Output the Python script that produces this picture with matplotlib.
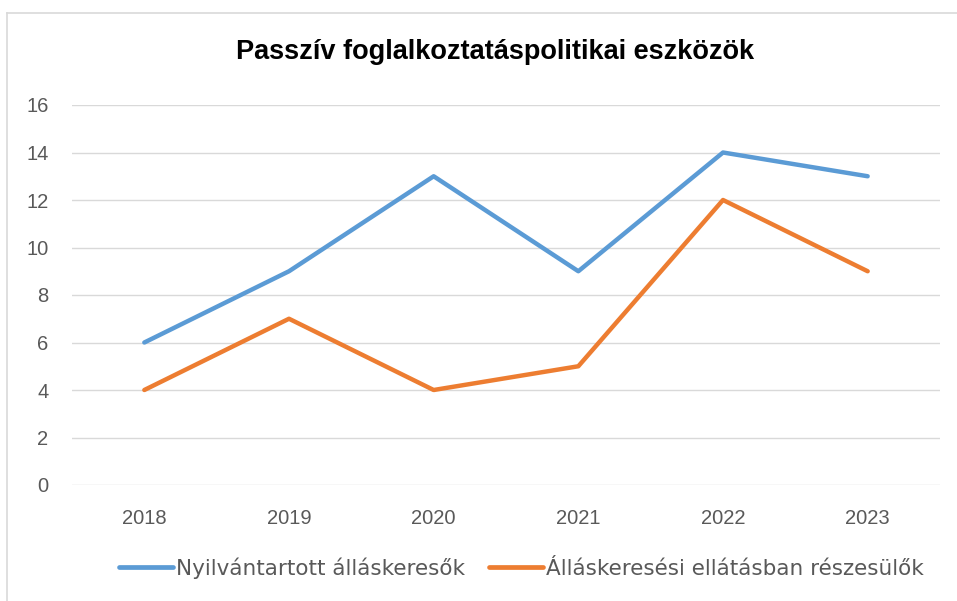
import matplotlib.pyplot as plt
from matplotlib.lines import Line2D

# ---------- adatok ----------
years = ["2018", "2019", "2020", "2021", "2022", "2023"]
nyilvantartott = [6, 9, 13, 9, 14, 13]
ellatasban = [4, 7, 4, 5, 12, 9]

BLUE = "#5B9BD5"
ORANGE = "#ED7D31"
GRID = "#D9D9D9"
TXT = "#595959"

plt.rcParams["font.family"] = ["Liberation Sans", "DejaVu Sans"]

fig = plt.figure(figsize=(9.57, 6.01), dpi=100)
ax = fig.add_axes([72 / 957, 1 - 485 / 601, 868 / 957, 380 / 601])

x = range(len(years))
ax.plot(x, nyilvantartott, color=BLUE, linewidth=3.2, solid_capstyle="round",
        label="Nyilvántartott álláskeresők")
ax.plot(x, ellatasban, color=ORANGE, linewidth=3.2, solid_capstyle="round",
        label="Álláskeresési ellátásban részesülők")

ax.set_xlim(-0.5, len(years) - 0.5)
ax.set_ylim(0, 16)
ax.set_yticks(range(0, 17, 2))
ax.set_xticks(list(x))
ax.set_xticklabels(years)
ax.tick_params(axis="both", length=0, labelsize=14.5, colors=TXT)
ax.tick_params(axis="x", pad=17)
ax.tick_params(axis="y", pad=17)
ax.grid(axis="y", color=GRID, linewidth=1)
ax.set_axisbelow(True)
for s in ax.spines.values():
    s.set_visible(False)

fig.text(0.517, 1 - 52 / 601, "Passzív foglalkoztatáspolitikai eszközök",
         ha="center", va="center", fontsize=19.5, fontweight="bold", color="black")

handles = [Line2D([0], [0], color=BLUE, linewidth=3.4, solid_capstyle="round"),
           Line2D([0], [0], color=ORANGE, linewidth=3.4, solid_capstyle="round")]
fig.legend(handles, ["Nyilvántartott álláskeresők", "Álláskeresési ellátásban részesülők"],
           loc="center", bbox_to_anchor=(0.545, 1 - 568 / 601), ncol=2, frameon=False,
           prop={"family": "DejaVu Sans", "size": 15.5}, labelcolor=TXT,
           handlelength=2.5, handletextpad=0.15, columnspacing=1.1)

# keret
fig.add_artist(Line2D([7 / 957, 7 / 957], [0, 1 - 13 / 601], transform=fig.transFigure,
                      color="#D9D9D9", linewidth=1.2))
fig.add_artist(Line2D([7 / 957, 1], [1 - 13 / 601, 1 - 13 / 601], transform=fig.transFigure,
                      color="#D9D9D9", linewidth=1.2))

fig.savefig("out.png", dpi=100)
